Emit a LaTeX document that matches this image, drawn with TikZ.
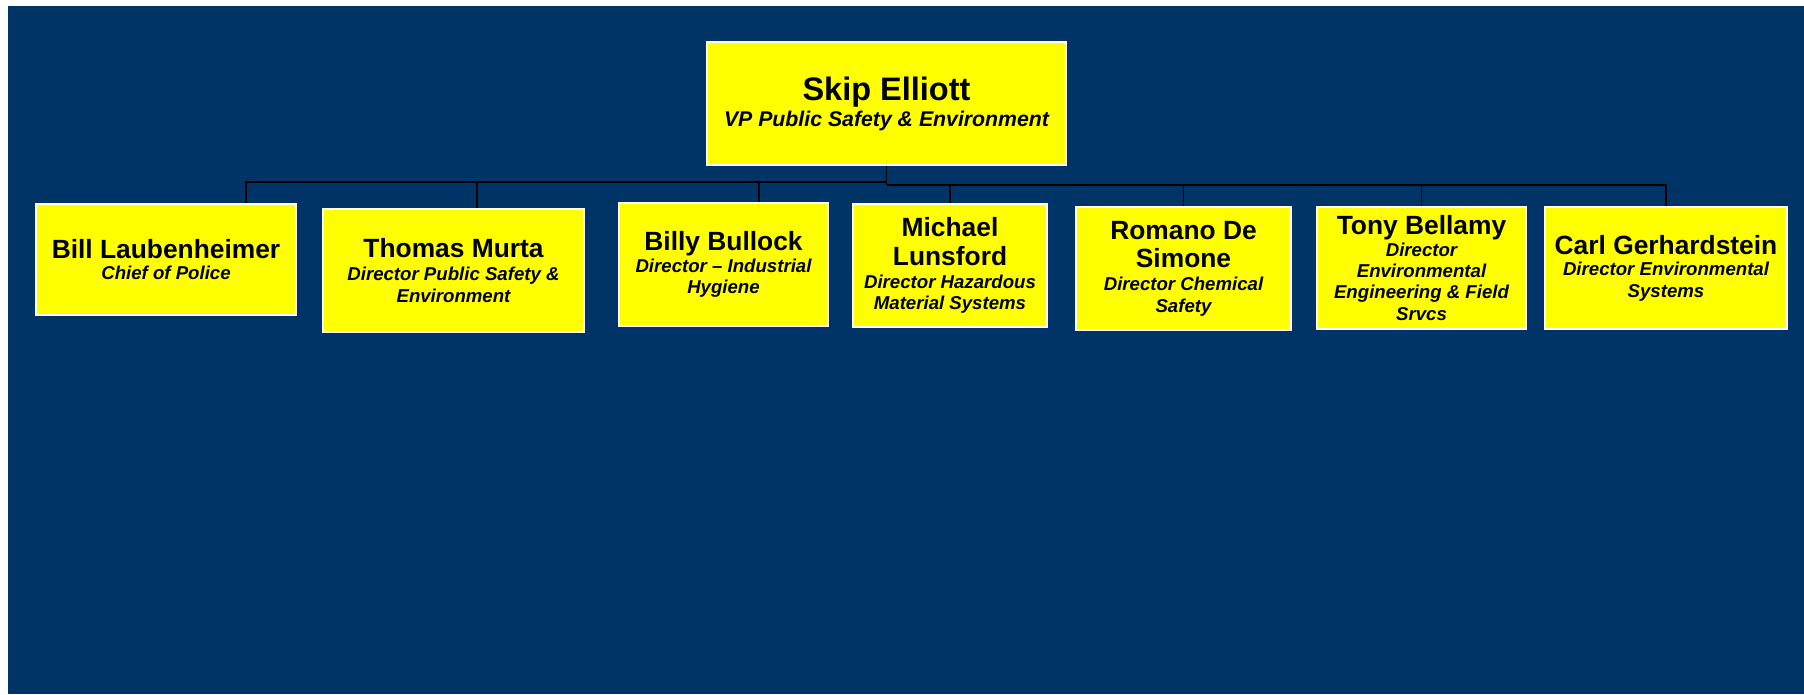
\documentclass[tikz,border=0pt]{standalone}
\usepackage{fontspec}
\setmainfont{Liberation Sans}
\definecolor{navy}{RGB}{0,51,102}
\definecolor{postit}{RGB}{255,255,0}
\newcommand{\who}[1]{{\upshape\fontsize{15}{16}\selectfont #1}}
\tikzset{
  post/.style={draw=white, line width=0.8pt, fill=postit, align=center, inner sep=1pt,
    font=\fontsize{10.6}{12.2}\selectfont\bfseries\itshape},
  wire/.style={black, line width=1.1pt}
}
\begin{document}
\begin{tikzpicture}
            \fill[white] (0,0) rectangle (36.08,-13.88);
            \fill[navy] (0.16,-0.12) rectangle (36.08,-13.88);
            \node[post, minimum width=7.18cm, minimum height=2.46cm,
                  font=\fontsize{12.1}{14.8}\selectfont\bfseries\itshape] (skip) at (17.73,-2.07)
                 {{\upshape\fontsize{18.5}{20}\selectfont Skip Elliott}\\VP Public Safety \& Environment};
            \node[post, minimum width=5.2cm, minimum height=2.22cm] (bill) at (3.32,-5.19)
                 {\who{Bill Laubenheimer}\\Chief of Police};
            \node[post, minimum width=5.22cm, minimum height=2.46cm] (thomas) at (9.07,-5.41)
                 {\who{Thomas Murta}\\[1pt]Director Public Safety \&\\Environment};
            \node[post, minimum width=4.18cm, minimum height=2.46cm] (billy) at (14.47,-5.29)
                 {\who{Billy Bullock}\\Director -- Industrial\\Hygiene};
            \node[post, minimum width=3.88cm, minimum height=2.46cm] (michael) at (19.0,-5.31)
                 {\who{Michael}\\[4pt]\who{Lunsford}\\[1pt]Director Hazardous\\Material Systems};
            \node[post, minimum width=4.3cm, minimum height=2.46cm] (romano) at (23.67,-5.37)
                 {\who{Romano De}\\[4pt]\who{Simone}\\[1pt]Director Chemical\\Safety};
            \node[post, minimum width=4.18cm, minimum height=2.44cm] (tony) at (28.43,-5.36)
                 {\who{Tony Bellamy}\\Director\\Environmental\\Engineering \& Field\\Srvcs};
            \node[post, minimum width=4.84cm, minimum height=2.44cm] (carl) at (33.32,-5.36)
                 {\who{Carl Gerhardstein}\\Director Environmental\\Systems};
            \coordinate (hubL) at (17.73,-3.64);
            \coordinate (hubR) at (17.73,-3.70);
            \draw[wire] (skip.south) -- (hubR);
            \foreach \n/\dx in {bill/1.6, thomas/0.47, billy/0.71}
                \draw[wire] (hubL) -| ([xshift=\dx cm]\n.north);
            \foreach \n in {michael, romano, tony, carl}
                \draw[wire] (hubR) -| (\n.north);
        \end{tikzpicture}
\end{document}
